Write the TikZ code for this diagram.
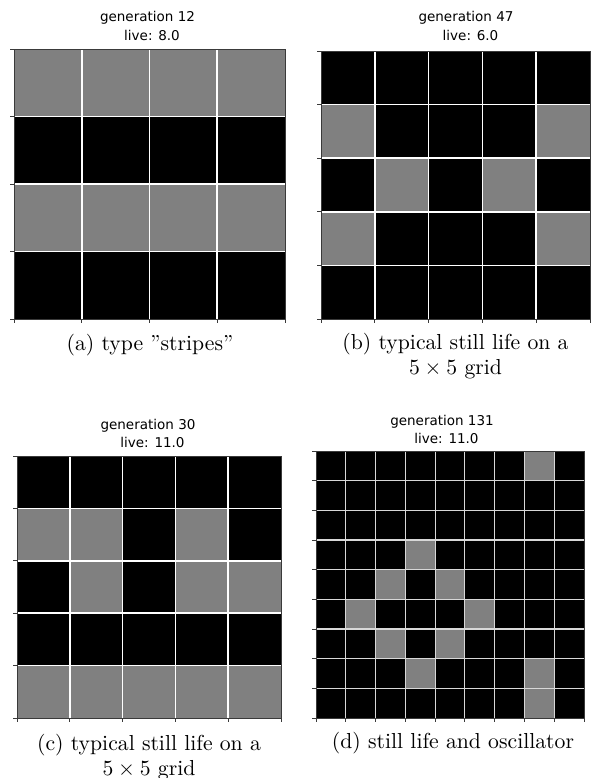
\documentclass[tikz,border=0pt]{standalone}
\usepackage{fontspec}
\newfontfamily\mplfont{DejaVu Sans}
\definecolor{cellgray}{HTML}{808080}
\definecolor{spinegray}{HTML}{3A3A3A}
\definecolor{thingrid}{HTML}{D8D8D8}
\tikzset{
  titletext/.style={font=\mplfont\fontsize{13.5}{16}\selectfont, inner sep=0pt, anchor=base},
  captext/.style={font=\fontsize{10}{12}\selectfont, inner sep=0pt, anchor=base, scale=2.17, transform shape},
  gridline/.style={white, line width=1.6pt},
  thingridline/.style={thingrid, line width=1.1pt},
  spine/.style={draw=spinegray, line width=0.9pt},
  tickmark/.style={spinegray, line width=0.9pt},
}
% #1 x0, #2 y0, #3 x1, #4 y1, #5 n, #6 gray cells r/c, #7 grid style
\newcommand\lifepanel[7]{%
  \pgfmathsetmacro\lpcw{(#3-#1)/#5}%
  \pgfmathsetmacro\lpch{(#4-#2)/#5}%
  \pgfmathtruncatemacro\lpnm{#5-1}%
  \fill[black] (#1,#2) rectangle (#3,#4);
  \foreach \r/\c in {#6} {%
    \fill[cellgray] ({#1+\c*\lpcw},{#2+\r*\lpch}) rectangle ({#1+(\c+1)*\lpcw},{#2+(\r+1)*\lpch});
  }
  \foreach \i in {1,...,\lpnm} {%
    \draw[#7] ({#1+\i*\lpcw},#2) -- ({#1+\i*\lpcw},#4);
    \draw[#7] (#1,{#2+\i*\lpch}) -- (#3,{#2+\i*\lpch});
  }
  \foreach \i in {0,...,#5} {%
    \draw[tickmark] (#1,{#2+\i*\lpch}) -- ({#1-4},{#2+\i*\lpch});
    \draw[tickmark] ({#1+\i*\lpcw},#4) -- ({#1+\i*\lpcw},{#4+4});
  }
  \draw[spine] (#1,#2) rectangle (#3,#4);
}
\begin{document}
\begin{tikzpicture}[x=1pt,y=-1pt]
\useasboundingbox[fill=white] (0,0) rectangle (603,778);
% panel (a)
\lifepanel{14}{49}{285}{319}{4}{0/0,0/1,0/2,0/3,2/0,2/1,2/2,2/3}{gridline}
\node[titletext] (ta1) at (147.5,22) {generation 12};
\node[titletext] (ta2) at (152,41) {live: 8.0};
\node[captext] (ca) at (150,350) {(a) type ”stripes”};
% panel (b)
\lifepanel{321}{51}{590}{319}{5}{1/0,1/4,2/1,2/3,3/0,3/4}{gridline}
\node[titletext] (tb1) at (466,22) {generation 47};
\node[titletext] (tb2) at (470.5,41) {live: 6.0};
\node[captext] (cb1) at (455.5,349) {(b) typical still life on a};
\node[captext] (cb2) at (455.5,374) {$5\times5$ grid};
% panel (c)
\lifepanel{17}{456}{281}{718}{5}{1/0,1/1,1/3,2/1,2/3,2/4,4/0,4/1,4/2,4/3,4/4}{gridline}
\node[titletext] (tc1) at (148,429) {generation 30};
\node[titletext] (tc2) at (152.5,447.5) {live: 11.0};
\node[captext] (cc1) at (149,750) {(c) typical still life on a};
\node[captext] (cc2) at (149,775) {$5\times5$ grid};
% panel (d)
\lifepanel{316}{451}{584}{718}{9}{0/7,3/3,4/2,4/4,5/1,5/5,6/2,6/4,7/3,7/7,8/7}{thingridline}
\node[titletext] (td1) at (442,425) {generation 131};
\node[titletext] (td2) at (446.5,443.5) {live: 11.0};
\node[captext] (cd) at (453,748) {(d) still life and oscillator};
\end{tikzpicture}
\end{document}
